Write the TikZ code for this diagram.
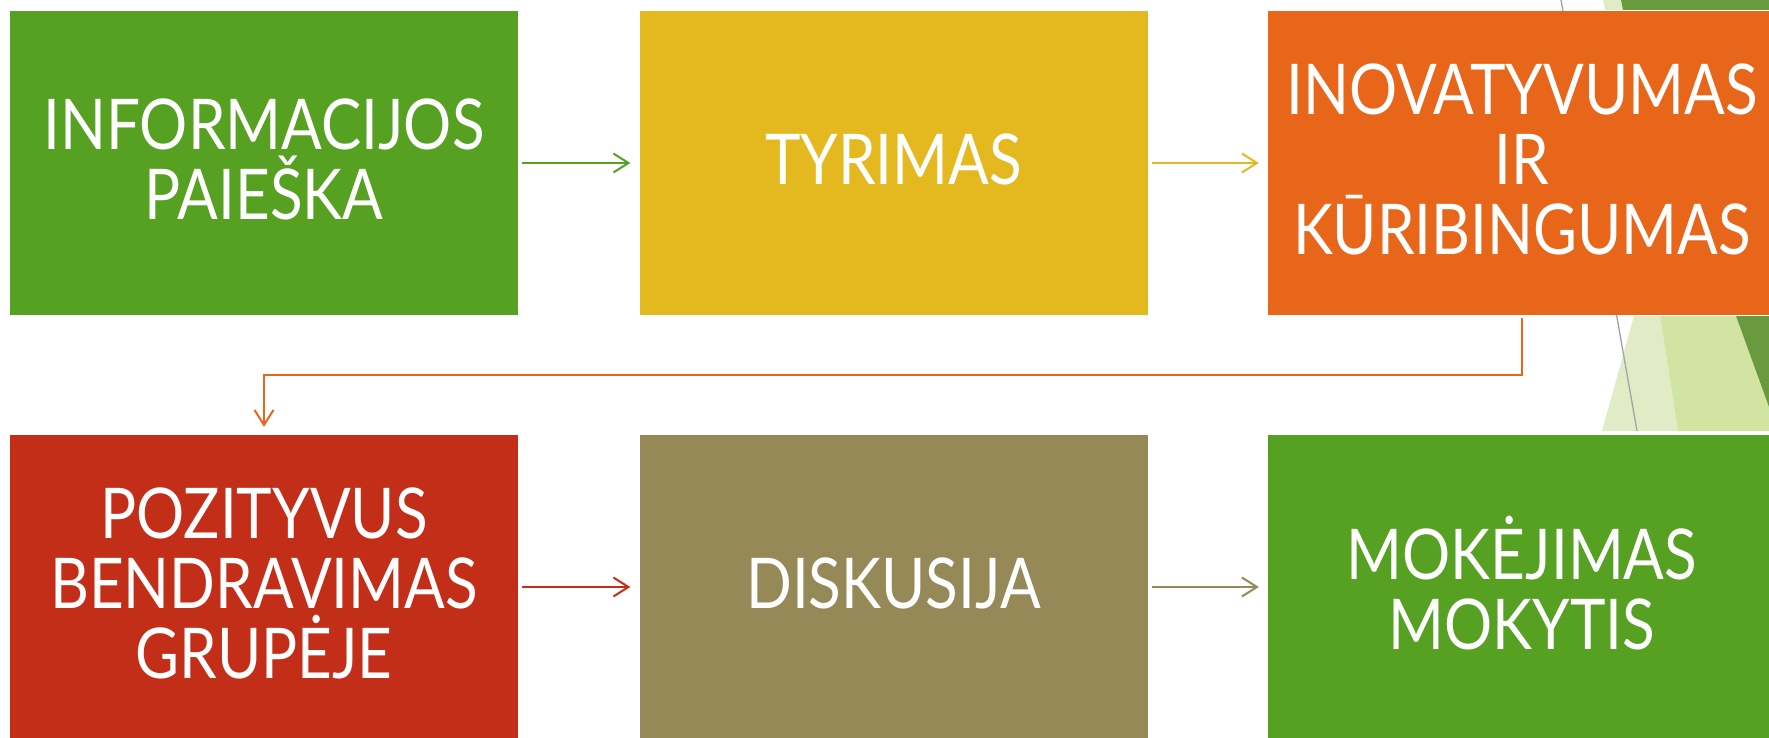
\documentclass[tikz,border=0pt]{standalone}
\usepackage{fontspec}
\usetikzlibrary{arrows.meta}
\newfontfamily\boxfont{Lato}[FakeStretch=0.86]
\definecolor{cgreen}{HTML}{56A022}
\definecolor{cyellow}{HTML}{E4B91F}
\definecolor{corange}{HTML}{E8661A}
\definecolor{cred}{HTML}{C32E19}
\definecolor{colive}{HTML}{948957}
\definecolor{dgreen}{HTML}{6A9A3E}
\definecolor{mgreen}{HTML}{D1E4A1}
\definecolor{lgreen}{HTML}{E1ECC6}
\definecolor{lgray}{HTML}{A3A3A3}
\begin{document}
\begin{tikzpicture}[x=1pt,y=-1pt,
  stepbox/.style={rectangle, inner sep=0pt, minimum width=508pt, minimum height=304pt,
    text=white, align=center, text depth=8pt, font=\boxfont\fontsize{70}{70}\selectfont},
  flow/.style={line width=2pt, -{Straight Barb[length=15pt,width=19pt]}, shorten <=4pt, shorten >=9pt}]
\useasboundingbox (0,0) rectangle (1769,738);
\fill[white] (0,0) rectangle (1769,738);
% background decoration
\fill[lgreen] (1602,431) -- (1634,316) -- (1660,316) -- (1678,431) -- cycle;
\fill[mgreen] (1660,316) -- (1736,316) -- (1769,407) -- (1769,431) -- (1678,431) -- cycle;
\fill[dgreen] (1736,316) -- (1769,316) -- (1769,407) -- cycle;
\fill[lgreen] (1603,0) -- (1621,0) -- (1623,10) -- (1605,10) -- cycle;
\fill[dgreen] (1621,0) -- (1769,0) -- (1769,10) -- (1623,10) -- cycle;
\draw[lgray, line width=1.3pt] (1561,0) -- (1637,431);
% boxes
\node[stepbox, fill=cgreen]  (b1) at (264,163)    {INFORMACIJOS\\PAIEŠKA};
\node[stepbox, fill=cyellow] (b2) at (893.5,163)  {TYRIMAS};
\node[stepbox, fill=corange] (b3) at (1522,163)   {INOVATYVUMAS\\IR\\KŪRIBINGUMAS};
\node[stepbox, fill=cred]    (b4) at (264,587)    {POZITYVUS\\BENDRAVIMAS\\GRUPĖJE};
\node[stepbox, fill=colive]  (b5) at (893.5,587)  {DISKUSIJA};
\node[stepbox, fill=cgreen]  (b6) at (1522,587)   {MOKĖJIMAS\\MOKYTIS};
% connectors
\draw[flow, cgreen]  (b1.east) -- (b2.west);
\draw[flow, cyellow] (b2.east) -- (b3.west);
\draw[flow, corange, shorten <=3pt, shorten >=8pt] (b3.south) -- ++(0,60) -| (b4.north);
\draw[flow, cred]    (b4.east) -- (b5.west);
\draw[flow, colive]  (b5.east) -- (b6.west);
\end{tikzpicture}
\end{document}
